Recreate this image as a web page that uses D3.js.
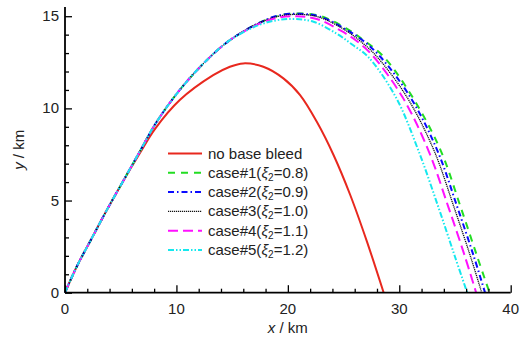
<!DOCTYPE html>
<html>
<head>
<meta charset="utf-8">
<script src="https://cdn.jsdelivr.net/npm/d3@7/dist/d3.min.js"></script>
<style>
  body { margin: 0; background: #fff; }
  text { font-family: "Liberation Sans", Arial, sans-serif; }
</style>
</head>
<body>
<div id="vis-tag"></div>
<script>
// 轨迹数据（单位 km）
const xMajor = [0, 10, 20, 30, 40];
const xMinor = [2, 4, 6, 8, 12, 14, 16, 18, 22, 24, 26, 28, 32, 34, 36, 38];
const yMajor = [0, 5, 10, 15];
const yMinor = [1, 2, 3, 4, 6, 7, 8, 9, 11, 12, 13, 14];

const noBleedX = [0, 1.05, 2.4, 3.75, 5.1, 6.7, 8.1, 10.3, 13.3, 14.8, 16.0, 17.8, 19.6, 21.1, 22.6, 24.1, 25.6, 27.1, 28.6];
const noBleedY = [0, 1.41, 2.95, 4.48, 5.93, 7.55, 8.9, 10.45, 11.8, 12.26, 12.44, 12.26, 11.63, 10.72, 9.27, 7.47, 5.3, 2.77, 0];

const case1X = [0, 1.05, 2.4, 3.75, 5.1, 6.7, 8.1, 10.3, 12.7, 14.8, 17.3, 19.3, 21.2, 23.0, 25.2, 26.8, 28.6, 31.2, 33.7, 35.5, 37.0, 38.1];
const case1Y = [0, 1.41, 2.95, 4.48, 5.93, 7.65, 9.15, 11.0, 12.6, 13.7, 14.6, 15.05, 15.15, 15.0, 14.35, 13.7, 12.8, 10.6, 7.74, 4.66, 1.95, 0];

const case2X = [0, 1.05, 2.4, 3.75, 5.1, 6.7, 8.1, 10.3, 12.7, 14.8, 17.3, 19.2, 21.1, 22.9, 25.1, 26.7, 28.3, 31.0, 33.4, 35.2, 36.7, 37.7];
const case2Y = [0, 1.41, 2.95, 4.48, 5.93, 7.65, 9.15, 11.0, 12.6, 13.7, 14.6, 15.05, 15.13, 14.98, 14.32, 13.7, 12.8, 10.6, 7.74, 4.66, 1.95, 0];

const case3X = [0, 1.05, 2.4, 3.75, 5.1, 6.7, 8.1, 10.3, 12.7, 14.8, 17.3, 19.2, 21.0, 22.8, 25.0, 26.5, 28.0, 30.7, 33.1, 34.9, 36.4, 37.4];
const case3Y = [0, 1.41, 2.95, 4.48, 5.93, 7.65, 9.15, 11.0, 12.6, 13.7, 14.6, 15.0, 15.1, 14.95, 14.3, 13.65, 12.8, 10.6, 7.74, 4.66, 1.95, 0];

const case4X = [0, 1.05, 2.4, 3.75, 5.1, 6.7, 8.1, 10.3, 12.7, 14.8, 17.3, 19.1, 20.8, 22.6, 24.8, 26.3, 27.7, 30.3, 32.6, 34.4, 35.9, 36.9];
const case4Y = [0, 1.41, 2.95, 4.48, 5.93, 7.65, 9.15, 11.0, 12.6, 13.7, 14.55, 14.92, 15.0, 14.85, 14.2, 13.6, 12.8, 10.6, 7.74, 4.66, 1.95, 0];

const case5X = [0, 1.05, 2.4, 3.75, 5.1, 6.7, 8.1, 10.3, 12.7, 14.8, 17.3, 19.0, 20.6, 22.3, 24.4, 25.8, 27.2, 29.7, 31.7, 33.5, 35.0, 36.1];
const case5Y = [0, 1.41, 2.95, 4.48, 5.93, 7.65, 9.15, 11.0, 12.6, 13.7, 14.5, 14.78, 14.85, 14.7, 14.05, 13.45, 12.8, 10.6, 7.74, 4.66, 1.95, 0];

const seriesNames = ["no base bleed", "case#1", "case#2", "case#3", "case#4", "case#5"];
const xiValues = [null, "0.8", "0.9", "1.0", "1.1", "1.2"];

// 样式
const styles = [
  { color: "#e8281e", dash: null, width: 2 },
  { color: "#22dd22", dash: "7,6", width: 2 },
  { color: "#0a0aff", dash: "6,3,1.5,3", width: 2 },
  { color: "#111111", dash: "1.2,0.8", width: 1.3 },
  { color: "#ff10ff", dash: "10,5", width: 2 },
  { color: "#15e8ee", dash: "6,2,1.5,2,1.5,2", width: 2 }
];

const allX = [noBleedX, case1X, case2X, case3X, case4X, case5X];
const allY = [noBleedY, case1Y, case2Y, case3Y, case4Y, case5Y];

const width = 522;
const height = 337;

const svg = d3.select("#vis-tag").append("svg")
  .attr("width", width)
  .attr("height", height);

const x = d3.scaleLinear().domain([0, 40]).range([65, 510.7]);
const y = d3.scaleLinear().domain([0, 15.5]).range([292.7, 7]);

// 曲线
const line = d3.line()
  .x(d => x(d[0]))
  .y(d => y(d[1]))
  .curve(d3.curveCatmullRom.alpha(0.5));

allX.forEach((xs, i) => {
  const pts = xs.map((v, j) => [v, allY[i][j]]);
  svg.append("path")
    .attr("d", line(pts))
    .attr("fill", "none")
    .attr("stroke", styles[i].color)
    .attr("stroke-width", styles[i].width)
    .attr("stroke-dasharray", styles[i].dash);
});

// X轴（刻度朝内）
const gx = svg.append("g").attr("transform", `translate(0,${y(0)})`);
gx.call(d3.axisTop(x).tickValues(xMajor).tickSize(7.5).tickFormat(""));
gx.call(g => g.select(".domain").remove());
gx.append("g").call(d3.axisTop(x).tickValues(xMinor).tickSize(4).tickFormat(""))
  .call(g => g.select(".domain").remove());
gx.selectAll("line").attr("stroke", "#000").attr("stroke-width", 1.3);
gx.append("line").attr("x1", x(0)).attr("x2", x(40)).attr("stroke", "#000").attr("stroke-width", 1.8);
gx.selectAll(".xlab").data(xMajor).enter().append("text")
  .attr("class", "xlab")
  .attr("x", d => x(d))
  .attr("y", 21.5)
  .attr("text-anchor", "middle")
  .attr("font-size", 15)
  .attr("fill", "#222")
  .text(d => d);

// Y轴（刻度朝内）
const gy = svg.append("g").attr("transform", `translate(${x(0)},0)`);
gy.call(d3.axisRight(y).tickValues(yMajor).tickSize(7).tickFormat(""));
gy.call(g => g.select(".domain").remove());
gy.append("g").call(d3.axisRight(y).tickValues(yMinor).tickSize(4).tickFormat(""))
  .call(g => g.select(".domain").remove());
gy.selectAll("line").attr("stroke", "#000").attr("stroke-width", 1.3);
gy.append("line").attr("y1", y(0)).attr("y2", 7).attr("stroke", "#000").attr("stroke-width", 1.8);
gy.selectAll(".ylab").data(yMajor).enter().append("text")
  .attr("class", "ylab")
  .attr("x", -6)
  .attr("y", d => y(d) + 5)
  .attr("text-anchor", "end")
  .attr("font-size", 15)
  .attr("fill", "#222")
  .text(d => d);

// 轴标题
const xt = svg.append("text")
  .attr("x", x(20))
  .attr("y", 333)
  .attr("text-anchor", "middle")
  .attr("font-size", 15)
  .attr("fill", "#222");
xt.append("tspan").attr("font-style", "italic").text("x");
xt.append("tspan").text(" / km");

const yt = svg.append("text")
  .attr("transform", `translate(24,${(y(0) + 7) / 2}) rotate(-90)`)
  .attr("text-anchor", "middle")
  .attr("font-size", 15)
  .attr("fill", "#222");
yt.append("tspan").attr("font-style", "italic").text("y");
yt.append("tspan").text(" / km");

// 图例
const legend = svg.append("g");
const rowY = i => 153.5 + i * 19.3;
seriesNames.forEach((name, i) => {
  legend.append("line")
    .attr("x1", 168).attr("x2", 202)
    .attr("y1", rowY(i)).attr("y2", rowY(i))
    .attr("stroke", styles[i].color)
    .attr("stroke-width", styles[i].width)
    .attr("stroke-dasharray", styles[i].dash);
  const t = legend.append("text")
    .attr("x", 208)
    .attr("y", rowY(i) + 5)
    .attr("font-size", 15)
    .attr("fill", "#222");
  if (xiValues[i] === null) {
    t.text(name);
  } else {
    t.append("tspan").text(name + "(");
    t.append("tspan").attr("font-style", "italic").text("ξ");
    t.append("tspan").attr("font-size", 10).attr("dy", 3).text("2");
    t.append("tspan").attr("dy", -3).text("=" + xiValues[i] + ")");
  }
});
</script>
</body>
</html>
